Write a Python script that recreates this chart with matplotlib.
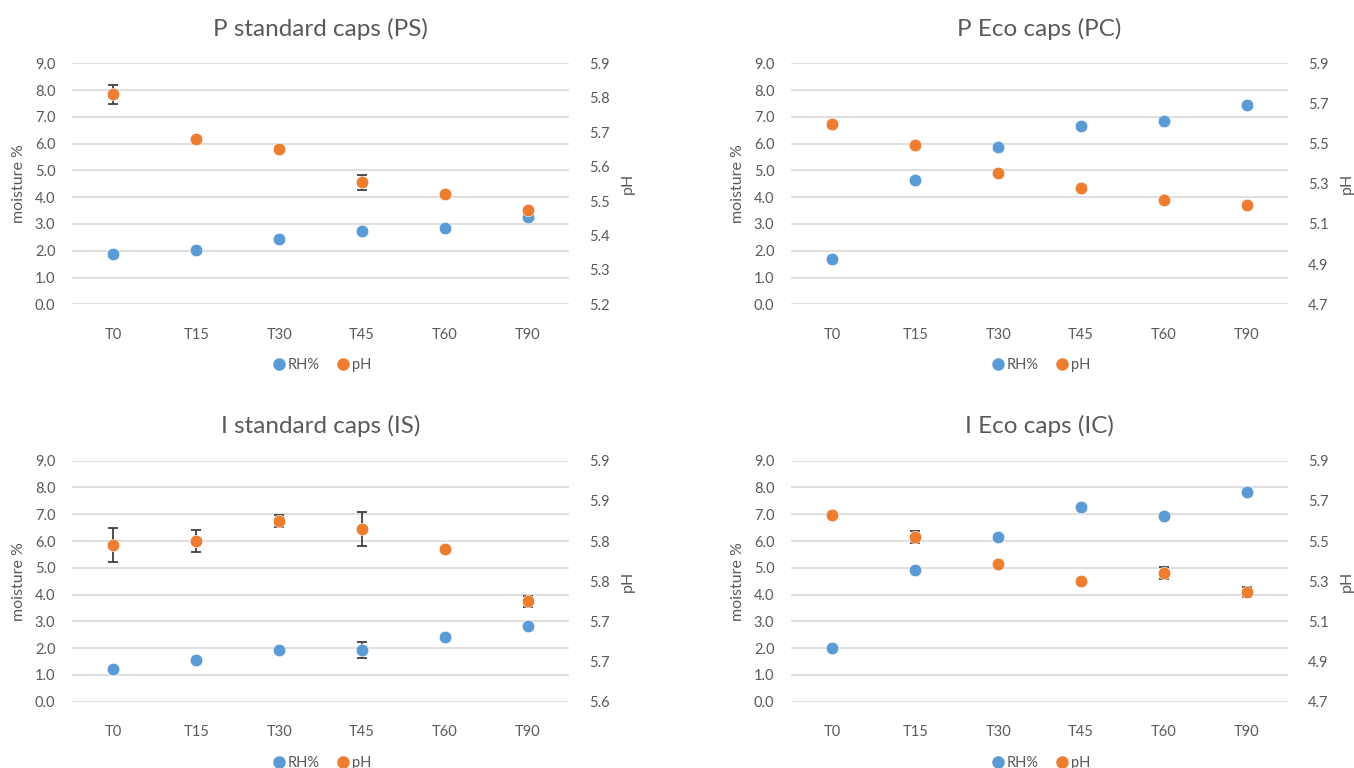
import matplotlib
matplotlib.use("Agg")
import matplotlib.pyplot as plt
import numpy as np
from decimal import Decimal, ROUND_HALF_UP

plt.rcParams["font.family"] = ["Lato", "DejaVu Sans"]

times = ["T0", "T15", "T30", "T45", "T60", "T90"]

# P standard caps (PS)
ps_rh = [1.87, 2.02, 2.45, 2.72, 2.85, 3.25]
ps_rh_err = [0, 0, 0, 0, 0, 0]
ps_ph = [5.81, 5.68, 5.65, 5.555, 5.52, 5.475]
ps_ph_err = [0.028, 0, 0, 0.022, 0, 0]

# P Eco caps (PC)
pc_rh = [1.68, 4.63, 5.89, 6.67, 6.84, 7.45]
pc_rh_err = [0, 0, 0, 0, 0.1, 0]
pc_ph = [5.596, 5.495, 5.354, 5.28, 5.219, 5.193]
pc_ph_err = [0.012, 0, 0, 0, 0, 0]

# I standard caps (IS)
is_rh = [1.23, 1.57, 1.92, 1.93, 2.40, 2.82]
is_rh_err = [0, 0, 0, 0.3, 0, 0]
is_ph = [5.795, 5.80, 5.825, 5.815, 5.79, 5.725]
is_ph_err = [0.0214, 0.014, 0.0075, 0.021, 0, 0.007]

# I Eco caps (IC)
ic_rh = [2.02, 4.91, 6.15, 7.26, 6.95, 7.84]
ic_rh_err = [0, 0, 0, 0, 0, 0]
ic_ph = [5.631, 5.52, 5.386, 5.30, 5.341, 5.245]
ic_ph_err = [0, 0.03, 0, 0, 0.029, 0.025]

panels = [
    ("P standard caps (PS)", ps_rh, ps_rh_err, ps_ph, ps_ph_err,
     (5.2, 5.9), np.arange(5.2, 5.91, 0.1)),
    ("P Eco caps (PC)", pc_rh, pc_rh_err, pc_ph, pc_ph_err,
     (4.7, 5.9), np.arange(4.7, 5.91, 0.2)),
    ("I standard caps (IS)", is_rh, is_rh_err, is_ph, is_ph_err,
     (5.6, 5.9), np.arange(5.6, 5.91, 0.05)),
    ("I Eco caps (IC)", ic_rh, ic_rh_err, ic_ph, ic_ph_err,
     (4.7, 5.9), np.arange(4.7, 5.91, 0.2)),
]

C_RH, C_PH = "#5B9BD5", "#ED7D31"
TXT = "#595959"
GRID = "#D9D9D9"
ERR = "#404040"


def fmt1(v):
    # Excel-style one-decimal label (round half up)
    return str(Decimal(str(round(v, 3))).quantize(Decimal("0.1"), ROUND_HALF_UP))


def draw(ax, x, y, err, color):
    x = np.asarray(x); y = np.asarray(y); err = np.asarray(err)
    m = err > 0
    if m.any():
        ax.errorbar(x[m], y[m], yerr=err[m], fmt="none", ecolor=ERR,
                    elinewidth=1.3, capsize=3.5, capthick=1.3, zorder=2)
    ax.plot(x, y, "o", color=color, ms=9, mec="white", mew=0.4, zorder=3)


W, H = 1354, 768
fig = plt.figure(figsize=(W / 100, H / 100), dpi=100)

# axes boxes in pixels: left, top, width, height
boxes = [(72, 63.3, 497.3, 241), (791, 63.3, 497.3, 241),
         (72, 460.7, 497.3, 241), (791, 460.7, 497.3, 241)]

x = np.arange(len(times))
for (title, rh, rh_err, ph, ph_err, ph_lim, ph_ticks), (l, t, w, h) in zip(panels, boxes):
    ax = fig.add_axes([l / W, 1 - (t + h) / H, w / W, h / H])
    ax2 = ax.twinx()

    ax.set_xlim(-0.5, len(times) - 0.5)
    ax.set_ylim(0, 9)
    yt = np.arange(0, 9.1, 1.0)
    ax.set_yticks(yt)
    ax.set_yticklabels([f"{v:.1f}" for v in yt])
    ax.grid(axis="y", color=GRID, lw=1.2)
    ax.set_axisbelow(True)
    ax.set_xticks(x)
    ax.set_xticklabels(times)

    ax2.set_ylim(*ph_lim)
    ax2.set_yticks(ph_ticks)
    ax2.set_yticklabels([fmt1(v) for v in ph_ticks])

    for a in (ax, ax2):
        for s in a.spines.values():
            s.set_visible(False)
        a.tick_params(length=0, labelsize=10.5, labelcolor=TXT)
    ax.tick_params(axis="y", pad=12)
    ax.tick_params(axis="x", pad=17)
    ax2.tick_params(axis="y", pad=14)

    draw(ax, x, rh, rh_err, C_RH)
    draw(ax2, x, ph, ph_err, C_PH)

    ax.set_ylabel("moisture %", fontsize=11.5, color=TXT, labelpad=6)
    ax2.set_ylabel("pH", fontsize=11.5, color=TXT, rotation=90, labelpad=8)
    ax.set_title(title, fontsize=17.5, color=TXT, pad=20)

    # legend below the axes
    hs = [plt.Line2D([], [], ls="", marker="o", ms=8, color=C_RH),
          plt.Line2D([], [], ls="", marker="o", ms=8, color=C_PH)]
    ax.legend(hs, ["RH%", "pH"], loc="upper center", bbox_to_anchor=(0.5, -0.17),
              ncol=2, frameon=False, fontsize=10.5, labelcolor=TXT,
              handletextpad=0.0, columnspacing=1.0, handlelength=1.2)

fig.savefig("out.png", dpi=100)
